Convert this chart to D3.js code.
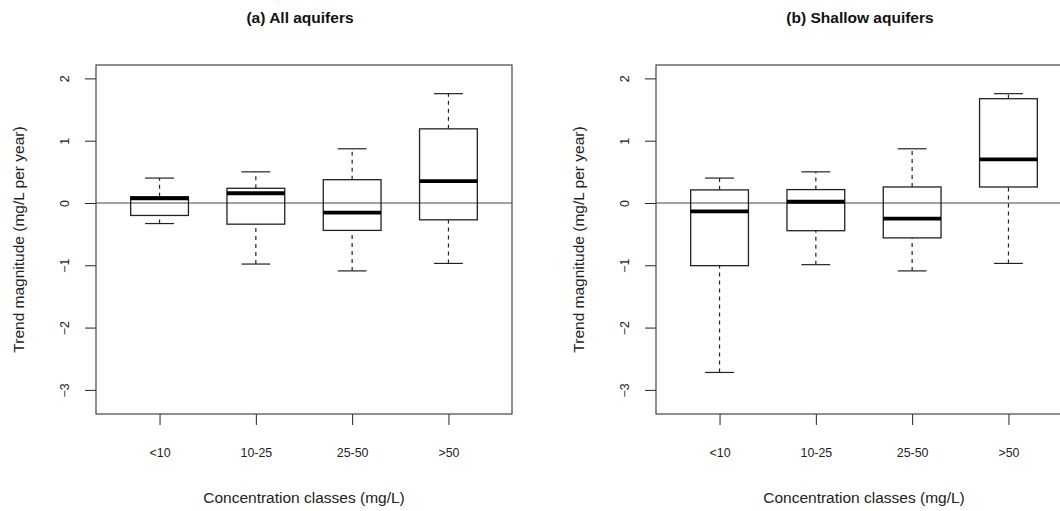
<!DOCTYPE html>
<html>
<head>
<meta charset="utf-8">
<script src="https://cdn.jsdelivr.net/npm/d3@7"></script>
<style>
  body { margin: 0; background: #fff; }
  svg { display: block; font-family: "Liberation Sans", Arial, sans-serif; }
  .tick text { fill: #222; }
</style>
</head>
<body>
<div class="svg-container"></div>
<script>
// categories on the x axis
const categories = ["<10", "10-25", "25-50", ">50"];

// five-number summaries per class: [lower whisker, Q1, median, Q3, upper whisker]
const allAquifers = [
  [-0.33, -0.20, 0.075, 0.10, 0.40],
  [-0.98, -0.34, 0.156, 0.236, 0.50],
  [-1.09, -0.44, -0.155, 0.374, 0.87],
  [-0.97, -0.27, 0.35, 1.19, 1.755]
];
const shallowAquifers = [
  [-2.72, -1.006, -0.135, 0.21, 0.40],
  [-0.99, -0.445, 0.02, 0.215, 0.50],
  [-1.09, -0.56, -0.25, 0.257, 0.87],
  [-0.97, 0.257, 0.70, 1.674, 1.755]
];

const yTicks = [-3, -2, -1, 0, 1, 2];
const panelTitles = ["(a) All aquifers", "(b) Shallow aquifers"];

document.addEventListener("DOMContentLoaded", () => {

  let svg = d3.select(".svg-container").append("svg")
    .attr("width", 1060)
    .attr("height", 511);

  let margin = { top: 65, left: 96 },
    width = 416,
    height = 349;

  // shared scales, each panel is translated
  let x = d3.scaleLinear()
    .domain([0.34, 4.66])
    .range([0, width]);

  let y = d3.scaleLinear()
    .domain([-3.387, 2.215])
    .range([height, 0]);

  let halfBox = x(1.3) - x(1);

  const panels = [allAquifers, shallowAquifers];

  panels.forEach((stats, p) => {
    let g = svg.append("g")
      .attr("transform", "translate(" + (margin.left + p * 560) + "," + margin.top + ")");

    // title
    g.append("text")
      .attr("x", width / 2 - 4)
      .attr("y", -42)
      .attr("text-anchor", "middle")
      .style("font-weight", "bold")
      .style("font-size", "15.5px")
      .style("fill", "#111")
      .text(panelTitles[p]);

    // y axis with rotated labels (R style)
    let yAxis = g.append("g")
      .call(d3.axisLeft(y).tickValues(yTicks).tickSize(11).tickFormat(d3.format("d")));
    yAxis.select(".domain").remove();
    yAxis.selectAll(".tick line").attr("stroke", "#222");
    yAxis.selectAll(".tick text")
      .attr("x", null)
      .attr("dy", null)
      .attr("transform", "translate(-27,0) rotate(-90)")
      .attr("text-anchor", "middle")
      .style("font-size", "12.4px")
      .style("font-family", "Liberation Sans, Arial, sans-serif");

    // x axis
    let xAxis = g.append("g")
      .attr("transform", "translate(0," + height + ")")
      .call(d3.axisBottom(x).tickValues(d3.range(1, categories.length + 1))
        .tickSize(11).tickFormat(i => categories[i - 1]));
    xAxis.select(".domain").remove();
    xAxis.selectAll(".tick line").attr("stroke", "#222");
    xAxis.selectAll(".tick text")
      .attr("y", 43)
      .attr("dy", null)
      .style("font-size", "12.4px")
      .style("font-family", "Liberation Sans, Arial, sans-serif");

    // axis titles
    g.append("text")
      .attr("x", width / 2)
      .attr("y", height + 89)
      .attr("text-anchor", "middle")
      .style("font-size", "15.5px")
      .style("fill", "#222")
      .text("Concentration classes (mg/L)");

    g.append("text")
      .attr("transform", "translate(-72.5," + (height / 2) + ") rotate(-90)")
      .attr("text-anchor", "middle")
      .style("font-size", "15.5px")
      .style("fill", "#222")
      .text("Trend magnitude (mg/L per year)");

    // zero reference line
    g.append("line")
      .attr("x1", 0)
      .attr("x2", width)
      .attr("y1", y(0))
      .attr("y2", y(0))
      .attr("stroke", "#444")
      .attr("stroke-width", 1.2);

    let box = g.selectAll(".box")
      .data(stats)
      .enter().append("g")
      .attr("class", "box");

    // whiskers
    box.append("line")
      .attr("x1", (d, i) => x(i + 1))
      .attr("x2", (d, i) => x(i + 1))
      .attr("y1", d => y(d[0]))
      .attr("y2", d => y(d[1]))
      .attr("stroke", "#222")
      .attr("stroke-width", 1.2)
      .attr("stroke-dasharray", "4,4");
    box.append("line")
      .attr("x1", (d, i) => x(i + 1))
      .attr("x2", (d, i) => x(i + 1))
      .attr("y1", d => y(d[3]))
      .attr("y2", d => y(d[4]))
      .attr("stroke", "#222")
      .attr("stroke-width", 1.2)
      .attr("stroke-dasharray", "4,4");

    // staples
    [0, 4].forEach(k => {
      box.append("line")
        .attr("x1", (d, i) => x(i + 1) - halfBox / 2)
        .attr("x2", (d, i) => x(i + 1) + halfBox / 2)
        .attr("y1", d => y(d[k]))
        .attr("y2", d => y(d[k]))
        .attr("stroke", "#222")
        .attr("stroke-width", 1.2);
    });

    // boxes
    box.append("rect")
      .attr("x", (d, i) => x(i + 1) - halfBox)
      .attr("width", halfBox * 2)
      .attr("y", d => y(d[3]))
      .attr("height", d => y(d[1]) - y(d[3]))
      .attr("fill", "none")
      .attr("stroke", "#222")
      .attr("stroke-width", 1.3);

    // medians
    box.append("line")
      .attr("x1", (d, i) => x(i + 1) - halfBox)
      .attr("x2", (d, i) => x(i + 1) + halfBox)
      .attr("y1", d => y(d[2]))
      .attr("y2", d => y(d[2]))
      .attr("stroke", "#000")
      .attr("stroke-width", 3.8);

    // frame
    g.append("rect")
      .attr("width", width)
      .attr("height", height)
      .attr("fill", "none")
      .attr("stroke", "#444")
      .attr("stroke-width", 1.2);
  });
});
</script>
</body>
</html>
